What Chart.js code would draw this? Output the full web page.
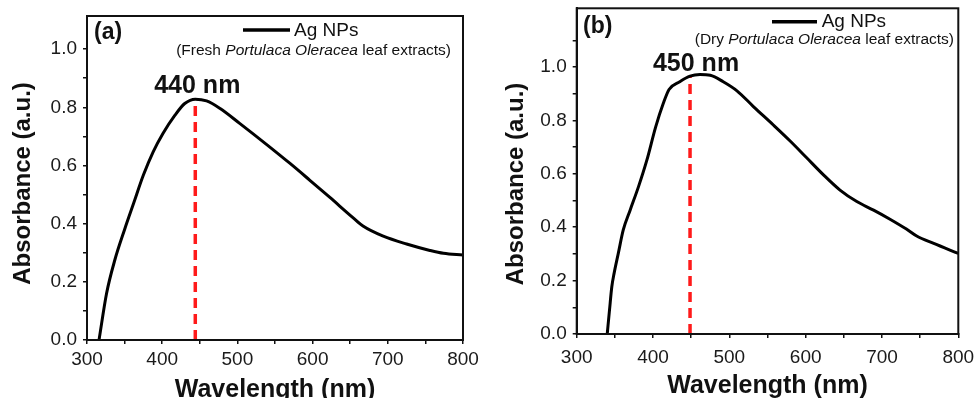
<!DOCTYPE html>
<html>
<head>
<meta charset="utf-8">
<script src="https://cdn.jsdelivr.net/npm/chart.js@4.4.0/dist/chart.umd.min.js"></script>
<style>
  html, body { margin: 0; padding: 0; background: #fff; overflow: hidden; }
  body { width: 974px; height: 398px; position: relative; }
  canvas { position: absolute; top: 0; }
  #chart-a { left: 0; }
  #chart-b { left: 490px; }
</style>
</head>
<body>
<canvas id="chart-a" width="480" height="398"></canvas>
<canvas id="chart-b" width="484" height="398"></canvas>
<script>
// Panel (a) - fresh leaf extract spectrum
const wavelengthA = [316, 326, 337, 350, 362, 375, 388, 401, 417, 430, 444, 459, 477, 503, 539, 570, 596, 623, 654, 667, 694, 725, 756, 774, 800];
const absorbanceA = [0, 0.16, 0.275, 0.38, 0.47, 0.567, 0.647, 0.71, 0.773, 0.813, 0.828, 0.822, 0.796, 0.745, 0.672, 0.607, 0.55, 0.49, 0.42, 0.392, 0.357, 0.33, 0.308, 0.298, 0.292];
const peakXA = [444, 444];
const peakYA = [0, 0.828];

// Panel (b) - dry leaf extract spectrum
const wavelengthB = [340, 343, 346, 349, 354.5, 361, 370, 381, 392, 403.5, 413.5, 421, 435, 448.5, 461.5, 475, 492, 510, 531.5, 558, 580, 601, 623, 645, 667, 689, 710.5, 732, 745.5, 767, 800];
const absorbanceB = [0, 0.09, 0.177, 0.227, 0.302, 0.39, 0.464, 0.552, 0.652, 0.776, 0.864, 0.916, 0.945, 0.966, 0.972, 0.969, 0.945, 0.911, 0.852, 0.782, 0.722, 0.661, 0.597, 0.539, 0.496, 0.464, 0.43, 0.393, 0.367, 0.34, 0.302];
const peakXB = [448.5, 448.5];
const peakYB = [0, 0.966];

// Text
const seriesName = 'Ag NPs';
const peakLabels = ['440 nm', '450 nm'];
const panelLabels = ['(a)', '(b)'];
const xTitle = 'Wavelength (nm)';
const yTitle = 'Absorbance (a.u.)';
const subtitleA = [['(Fresh ', false], ['Portulaca Oleracea', true], [' leaf extracts)', false]];
const subtitleB = [['(Dry ', false], ['Portulaca Oleracea', true], [' leaf extracts)', false]];

const FONT = "'Liberation Sans', Arial, sans-serif";

function toPoints(xs, ys) {
    return xs.map(function(x, i) { return { x: x, y: ys[i] }; });
}

// Draws frame, legend, panel label, peak label and axis titles
const panelText = {
    id: 'panelText',
    afterDraw(chart, args, o) {
        const ctx = chart.ctx;
        const area = chart.chartArea;
        const xs = chart.scales.x;
        const ys = chart.scales.y;
        ctx.save();

        // box around plot
        ctx.strokeStyle = '#111';
        ctx.lineWidth = 2;
        ctx.strokeRect(area.left, area.top, area.right - area.left, area.bottom - area.top);

        ctx.fillStyle = '#111';
        ctx.textBaseline = 'middle';

        // panel label
        ctx.font = 'bold 23px ' + FONT;
        ctx.textAlign = 'left';
        ctx.fillText(o.label, o.labelPos[0], o.labelPos[1]);

        // legend
        ctx.strokeStyle = '#000';
        ctx.lineWidth = 3.5;
        ctx.beginPath();
        ctx.moveTo(o.legendLine[0], o.legendLine[2]);
        ctx.lineTo(o.legendLine[1], o.legendLine[2]);
        ctx.stroke();
        ctx.font = '19px ' + FONT;
        ctx.fillText(seriesName, o.legendText[0], o.legendText[1]);

        // subtitle with italic species name
        let total = 0;
        o.subtitle.forEach(function(p) {
            ctx.font = (p[1] ? 'italic ' : '') + '15.5px ' + FONT;
            total += ctx.measureText(p[0]).width;
        });
        let sx = o.subRight - total;
        o.subtitle.forEach(function(p) {
            ctx.font = (p[1] ? 'italic ' : '') + '15.5px ' + FONT;
            ctx.fillText(p[0], sx, o.subY);
            sx += ctx.measureText(p[0]).width;
        });

        // peak label
        ctx.font = 'bold 25px ' + FONT;
        ctx.textAlign = 'center';
        ctx.textBaseline = 'alphabetic';
        ctx.fillText(o.peakText, xs.getPixelForValue(o.peakX) + o.peakDx, ys.getPixelForValue(o.peakY) + o.peakDy);

        // x axis title
        ctx.fillText(xTitle, (area.left + area.right) / 2, o.xTitleY);

        // y axis title
        ctx.font = 'bold 24px ' + FONT;
        ctx.textBaseline = 'middle';
        ctx.translate(o.yTitlePos[0], o.yTitlePos[1]);
        ctx.rotate(-Math.PI / 2);
        ctx.fillText(yTitle, 0, 0);

        ctx.restore();
    }
};

function makeChart(canvasId, cfg) {
    return new Chart(document.getElementById(canvasId), {
        type: 'line',
        data: {
            datasets: [
                {
                    data: toPoints(cfg.xs, cfg.ys),
                    borderColor: '#000',
                    borderWidth: 3,
                    pointRadius: 0,
                    cubicInterpolationMode: 'monotone',
                    fill: false
                },
                {
                    data: toPoints(cfg.peakXs, cfg.peakYs),
                    borderColor: '#ff1a1a',
                    borderWidth: 3.5,
                    borderDash: [10, 6],
                    pointRadius: 0,
                    fill: false
                }
            ]
        },
        options: {
            responsive: false,
            animation: false,
            events: [],
            layout: { padding: cfg.padding },
            scales: {
                x: {
                    type: 'linear',
                    min: 300,
                    max: 800,
                    border: { display: true, color: '#111', width: 2 },
                    grid: { display: true, drawOnChartArea: false, drawTicks: true, tickLength: 4, color: '#111', lineWidth: 1.5 },
                    ticks: {
                        stepSize: 50,
                        padding: cfg.xTickPad,
                        color: '#1a1a1a',
                        font: { family: FONT, size: 19 },
                        maxRotation: 0,
                        autoSkip: false,
                        callback: function(v) { return v % 100 === 0 ? String(v) : ''; }
                    },
                    afterFit: function(s) {
                        s.height = cfg.xAxisHeight;
                        s.paddingLeft = 0;
                        s.paddingRight = 0;
                    }
                },
                y: {
                    min: 0,
                    max: cfg.yMax,
                    border: { display: true, color: '#111', width: 2 },
                    grid: { display: true, drawOnChartArea: false, drawTicks: true, tickLength: 4, color: '#111', lineWidth: 1.5 },
                    ticks: {
                        stepSize: 0.1,
                        includeBounds: false,
                        padding: 6,
                        color: '#1a1a1a',
                        font: { family: FONT, size: 19 },
                        autoSkip: false,
                        callback: function(v) {
                            const t = Math.round(v * 10);
                            return t % 2 === 0 ? (t / 10).toFixed(1) : '';
                        }
                    },
                    afterBuildTicks: function(s) {
                        s.ticks = s.ticks.filter(function(t) { return t.value <= cfg.lastTick + 0.001; });
                    },
                    afterFit: function(s) {
                        s.width = cfg.yAxisWidth;
                        s.paddingTop = 0;
                        s.paddingBottom = 0;
                    }
                }
            },
            plugins: {
                legend: { display: false },
                tooltip: { enabled: false },
                panelText: cfg.text
            }
        },
        plugins: [panelText]
    });
}

makeChart('chart-a', {
    xs: wavelengthA, ys: absorbanceA, peakXs: peakXA, peakYs: peakYA,
    yMax: 1.114, lastTick: 1.0,
    padding: { left: 0, top: 16, right: 17, bottom: 0 },
    yAxisWidth: 87, xAxisHeight: 58, xTickPad: 4,
    text: {
        label: panelLabels[0], labelPos: [94, 33],
        legendLine: [243, 290, 30], legendText: [294, 31],
        subtitle: subtitleA, subRight: 451, subY: 51,
        peakText: peakLabels[0], peakX: peakXA[1], peakY: peakYA[1], peakDx: 2, peakDy: -6,
        xTitleY: 397, yTitlePos: [23, 183.5]
    }
});

makeChart('chart-b', {
    xs: wavelengthB, ys: absorbanceB, peakXs: peakXB, peakYs: peakYB,
    yMax: 1.22, lastTick: 1.1,
    padding: { left: 0, top: 8.3, right: 15.7, bottom: 0 },
    yAxisWidth: 86.7, xAxisHeight: 64, xTickPad: 8,
    text: {
        label: panelLabels[1], labelPos: [93, 27],
        legendLine: [282, 327, 21.7], legendText: [331.7, 22],
        subtitle: subtitleB, subRight: 464, subY: 40,
        peakText: peakLabels[1], peakX: peakXB[1], peakY: peakYB[1], peakDx: 6, peakDy: -5,
        xTitleY: 393, yTitlePos: [26.7, 184]
    }
});
</script>
</body>
</html>
